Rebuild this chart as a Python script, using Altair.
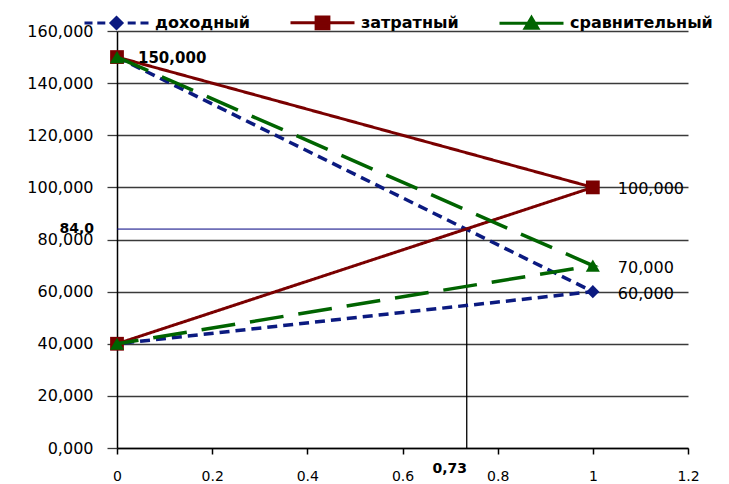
import altair as alt
import pandas as pd

# ---- data ----
series = ["доходный", "затратный", "сравнительный"]
x_points = [0, 1, 0]
start_value = 150000
mid_values = [60000, 100000, 70000]
end_value = 40000
mid_labels = ["60,000", "100,000", "70,000"]
start_label = "150,000"
guide_x = 0.735
guide_y = 84000
guide_x_label = "0,73"
guide_y_label = "84,0"
x_ticks = [0, 0.2, 0.4, 0.6, 0.8, 1.0, 1.2]
y_ticks = [0, 20000, 40000, 60000, 80000, 100000, 120000, 140000, 160000]

# ---- styles ----
colors = ["#0b1a80", "#7a0000", "#006400"]
shapes = ["diamond", "square", "triangle-up"]
dashes = [[10, 6], [1, 0], [34, 15]]
widths = [3.5, 3, 3.5]
sizes = [170, 190, 200]
legend_paths = [
    "M-1,0H-0.75M-0.6,0H-0.35M-0.2,0H0.2M0.35,0H0.6M0.75,0H1M0,-0.17L0.17,0L0,0.17L-0.17,0Z",
    "M-1,0H1M-0.2,-0.18H0.2V0.18H-0.2Z",
    "M-1,0H1M0,-0.18L0.2,0.16H-0.2Z",
]

rows = []
for s, m in zip(series, mid_values):
    for i, (xv, yv) in enumerate(zip(x_points, [start_value, m, end_value])):
        rows.append({"series": s, "x": xv, "y": yv, "order": i})
df = pd.DataFrame(rows)

x_enc = alt.X(
    "x:Q",
    scale=alt.Scale(domain=[0, 1.2], nice=False, zero=False),
    axis=alt.Axis(
        title=None, values=x_ticks, grid=False, tickSize=6, labelPadding=15,
        labelExpr="format(datum.value, '.1~f')", labelFont="DejaVu Sans",
        labelFontSize=14, labelColor="#000000", domainColor="#000000",
        tickColor="#000000", domainWidth=1.5, tickWidth=1.5, labelFlush=False,
    ),
)
y_enc = alt.Y(
    "y:Q",
    scale=alt.Scale(domain=[0, 160000], nice=False),
    axis=alt.Axis(
        title=None, values=y_ticks, grid=True, gridColor="#3a3a3a", gridWidth=1.3,
        gridOpacity=1, tickSize=10, tickColor="#3a3a3a", tickWidth=1.3, labelPadding=14,
        labelExpr="replace(format(datum.value / 1000, '.3f'), '.', ',')",
        labelFont="DejaVu Sans", labelFontSize=16, labelColor="#000000",
        domainColor="#000000", domainWidth=1.5,
    ),
)

layers = []
for i, s in enumerate(series):
    sub = df[df["series"] == s]
    line = alt.Chart(sub).mark_line(
        color=colors[i], strokeWidth=widths[i], strokeDash=dashes[i]
    ).encode(x=x_enc, y=y_enc, order="order:Q")
    pts = alt.Chart(sub).mark_point(
        filled=True, color=colors[i], shape=shapes[i], size=sizes[i], opacity=1
    ).encode(x=x_enc, y=y_enc)
    layers += [line, pts]

# legend source layer (invisible marks)
leg = alt.Legend(
    title=None, orient="none", direction="horizontal", legendX=-34, legendY=-42,
    symbolSize=4096, symbolStrokeWidth=3, symbolOpacity=1, labelOffset=5,
    columnPadding=34, labelFont="DejaVu Sans", labelFontSize=16,
    labelFontWeight="bold", labelColor="#000000", padding=0,
)
legend_layer = alt.Chart(df).mark_point(filled=True, opacity=0).encode(
    x=x_enc, y=y_enc,
    fill=alt.Fill("series:N", scale=alt.Scale(domain=series, range=colors), legend=leg),
    stroke=alt.Stroke("series:N", scale=alt.Scale(domain=series, range=colors), legend=leg),
    shape=alt.Shape("series:N", scale=alt.Scale(domain=series, range=legend_paths), legend=leg),
)

# guide lines
hguide = alt.Chart(pd.DataFrame({"x": [0], "x2": [guide_x], "y": [guide_y]})).mark_rule(
    color="#000080", strokeWidth=1
).encode(x=x_enc, x2="x2:Q", y=y_enc)
vguide = alt.Chart(pd.DataFrame({"x": [guide_x], "y": [0], "y2": [guide_y]})).mark_rule(
    color="#000000", strokeWidth=1.3
).encode(x=x_enc, y=y_enc, y2="y2:Q")

# text labels
start_text = alt.Chart(pd.DataFrame({"x": [0], "y": [start_value], "t": [start_label]})).mark_text(
    align="left", baseline="middle", dx=21, dy=1, font="DejaVu Sans", fontSize=15,
    fontWeight="bold", color="#000000"
).encode(x=x_enc, y=y_enc, text="t:N")
mid_text = alt.Chart(pd.DataFrame({"x": [1] * 3, "y": mid_values, "t": mid_labels})).mark_text(
    align="left", baseline="middle", dx=25, dy=2, font="DejaVu Sans", fontSize=16,
    color="#000000"
).encode(x=x_enc, y=y_enc, text="t:N")
gy_text = alt.Chart(pd.DataFrame({"x": [0], "y": [guide_y], "t": [guide_y_label]})).mark_text(
    align="right", baseline="middle", dx=-23, dy=0, font="DejaVu Sans", fontSize=14,
    fontWeight="bold", color="#000000"
).encode(x=x_enc, y=y_enc, text="t:N")
gx_text = alt.Chart(pd.DataFrame({"x": [guide_x], "y": [0], "t": [guide_x_label]})).mark_text(
    align="center", baseline="middle", dx=-17, dy=21, font="DejaVu Sans", fontSize=14,
    fontWeight="bold", color="#000000"
).encode(x=x_enc, y=y_enc, text="t:N")

chart = alt.layer(
    hguide, vguide, *layers, legend_layer, start_text, mid_text, gy_text, gx_text
).properties(
    width=571, height=417,
    autosize=alt.AutoSizeParams(type="none"),
    padding={"left": 117, "top": 31, "right": 41, "bottom": 36},
    background="#ffffff",
).configure_view(stroke=None)

chart.save("out.html", embed_options={"renderer": "svg", "actions": False})
